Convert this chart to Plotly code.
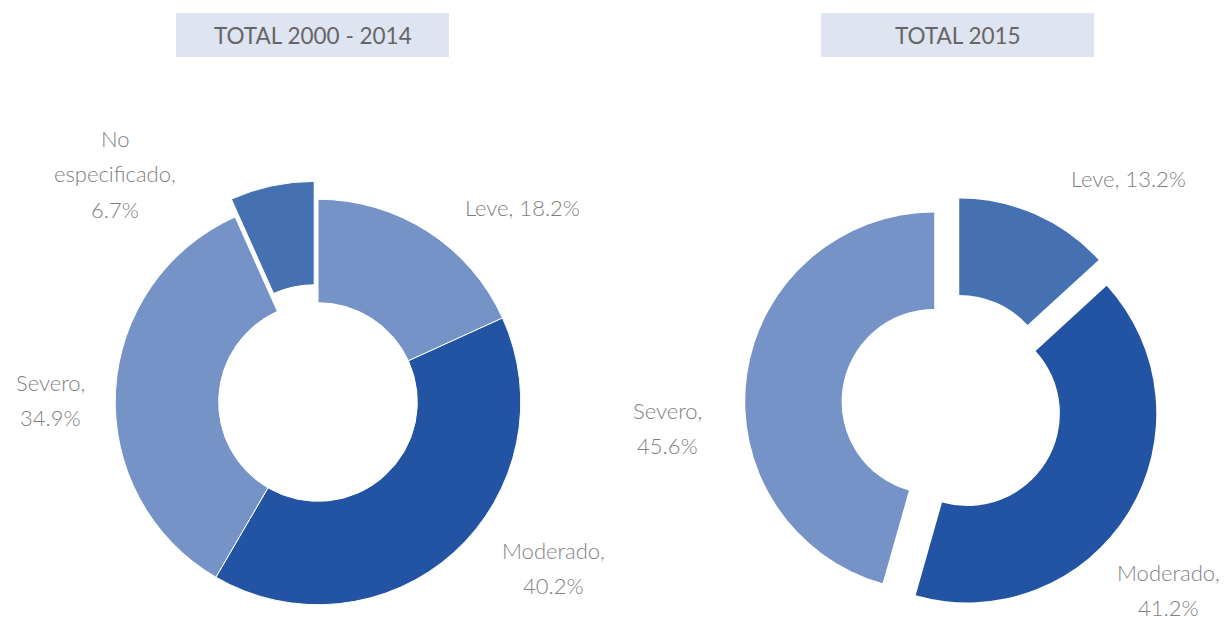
import plotly.graph_objects as go

W, H = 1231, 623

# Data
categories_left = ["Leve", "Moderado", "Severo", "No especificado"]
values_left = [18.2, 40.2, 34.9, 6.7]
colors_left = ["#7593C6", "#2354A3", "#7593C6", "#4571B2"]
pull_left = [0, 0, 0, 0.09]

categories_right = ["Leve", "Moderado", "Severo"]
values_right = [13.2, 41.2, 45.6]
colors_right = ["#4571B2", "#2354A3", "#7593C6"]
pull_right = [0.095, 0.095, 0.095]

titles = ["TOTAL 2000 - 2014", "TOTAL 2015"]

# label lines for each slice (wrapped like the reference)
label_lines_left = [["Leve, {v}%"], ["Moderado,", "{v}%"], ["Severo,", "{v}%"], ["No", "especificado,", "{v}%"]]
label_lines_right = [["Leve, {v}%"], ["Moderado,", "{v}%"], ["Severo,", "{v}%"]]
# label positions in pixels: center x, y of first line
label_pos_left = [(522, 208), (553, 550), (50, 382), (115, 138)]
label_pos_right = [(1128, 178), (1168, 572), (667, 410)]
LINE_STEP = 35.5

FONT = "Lato"
GRAY = "#7F7F7F"


def px_x(x):
    return x / W


def px_y(y):
    return 1 - y / H


fig = go.Figure()

fig.add_trace(go.Pie(
    labels=categories_left, values=values_left, sort=False, direction="clockwise",
    rotation=0, hole=0.49, pull=pull_left,
    marker=dict(colors=colors_left, line=dict(color="white", width=1)),
    textinfo="none", hoverinfo="label+percent", showlegend=False,
    domain=dict(x=[px_x(318 - 240), px_x(318 + 240)], y=[0, 2 * (H - 402) / H]),
))

# right pie: center (952, 404), radius ~189, pull 0.095
r_box = 2 * 189 * 1.095
cy = 404
y0 = 1 - (cy + r_box / 2) / H
fig.add_trace(go.Pie(
    labels=categories_right, values=values_right, sort=False, direction="clockwise",
    rotation=0, hole=0.49, pull=pull_right,
    marker=dict(colors=colors_right, line=dict(color="white", width=0)),
    textinfo="none", hoverinfo="label+percent", showlegend=False,
    domain=dict(x=[px_x(952 - r_box / 2), px_x(952 + r_box / 2)], y=[y0, y0 + r_box / H]),
))

shapes = []
annotations = []
for (x0, x1), t in zip([(176, 449), (821, 1094)], titles):
    shapes.append(dict(type="rect", xref="paper", yref="paper",
                       x0=px_x(x0), x1=px_x(x1), y0=px_y(57), y1=px_y(13),
                       fillcolor="#DEE4F0", line=dict(width=0), layer="below"))
    annotations.append(dict(x=px_x((x0 + x1) / 2), y=px_y(35), xref="paper", yref="paper",
                            text=t, showarrow=False, xanchor="center", yanchor="middle",
                            font=dict(family=FONT, size=22.5, color="#666666", weight=400)))

for lines_all, vals, poss in [(label_lines_left, values_left, label_pos_left),
                              (label_lines_right, values_right, label_pos_right)]:
    for lines, v, (x, y) in zip(lines_all, vals, poss):
        for i, ln in enumerate(lines):
            annotations.append(dict(x=px_x(x), y=px_y(y + i * LINE_STEP), xref="paper", yref="paper",
                                    text=ln.format(v=f"{v:.1f}"), showarrow=False,
                                    xanchor="center", yanchor="middle", align="center",
                                    borderpad=0,
                                    font=dict(family=FONT, size=22, color=GRAY, weight=300)))

fig.update_layout(
    width=W, height=H, margin=dict(l=0, r=0, t=0, b=0),
    paper_bgcolor="white", plot_bgcolor="white",
    shapes=shapes, annotations=annotations,
)

fig.write_html("out.html", config={"displayModeBar": False},
               post_script="document.body.style.margin='0px';document.body.style.padding='0px';")
